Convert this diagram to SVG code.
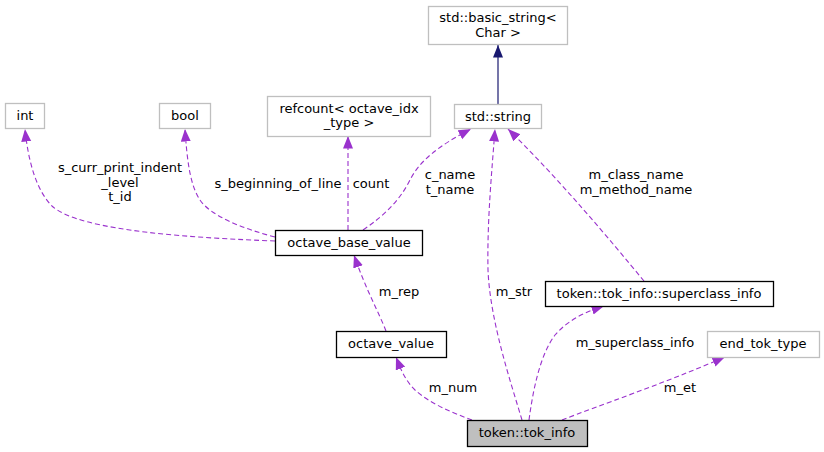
<svg xmlns="http://www.w3.org/2000/svg" width="824" height="452" viewBox="0 0 824 452">
<style>
text{font-family:"DejaVu Sans","Liberation Sans",sans-serif;font-size:13px;fill:#000;text-anchor:middle}
.n rect{fill:#fff;stroke:#000;stroke-width:1.3}
.g rect{stroke:#bfbfbf}
.e{fill:none;stroke:#9a32cd;stroke-width:1.1;stroke-dasharray:5,3}
</style>
<defs>
<marker id="ap" markerWidth="14" markerHeight="12" refX="12.5" refY="5" orient="auto" markerUnits="userSpaceOnUse"><path d="M0,0 L12.5,5 L0,10 Z" fill="#9a32cd"/></marker>
<marker id="an" markerWidth="14" markerHeight="12" refX="12.5" refY="5" orient="auto" markerUnits="userSpaceOnUse"><path d="M0,0 L12.5,5 L0,10 Z" fill="#191970"/></marker>
</defs>
<rect width="824" height="452" fill="#fff"/>
<g id="connectors">
<path d="M498,104 L498,45" fill="none" stroke="#191970" stroke-width="1.2" marker-end="url(#an)"/>
<path class="e" d="M275,241 C200,238 80,232 52,206 C36,190 28,160 25,129" marker-end="url(#ap)"/>
<path class="e" d="M275,237 C240,228 210,215 200,200 C190,185 187,160 185,129" marker-end="url(#ap)"/>
<path class="e" d="M348,230 L348,136" marker-end="url(#ap)"/>
<path class="e" d="M363,230 C385,215 400,200 410,180 C420,160 440,145 471,129" marker-end="url(#ap)"/>
<path class="e" d="M522,420 C510,380 490,320 488,270 C487,220 492,170 495,129" marker-end="url(#ap)"/>
<path class="e" d="M644,281 C610,240 560,180 508,129" marker-end="url(#ap)"/>
<path class="e" d="M529,420 C533,390 540,355 555,335 C568,320 585,312 604,306" marker-end="url(#ap)"/>
<path class="e" d="M472,420 C450,412 428,402 415,390 C405,380 401,370 396,357" marker-end="url(#ap)"/>
<path class="e" d="M562,420 C600,405 660,385 725,357" marker-end="url(#ap)"/>
<path class="e" d="M386,331 C380,315 366,290 354,255" marker-end="url(#ap)"/>
<text x="120" y="172">s_curr_print_indent</text>
<text x="120" y="187">_level</text>
<text x="120" y="201">t_id</text>
<text x="278" y="188">s_beginning_of_line</text>
<text x="371" y="188">count</text>
<text x="450" y="179">c_name</text>
<text x="450" y="194">t_name</text>
<text x="514" y="296">m_str</text>
<text x="636" y="179">m_class_name</text>
<text x="636" y="194">m_method_name</text>
<text x="635" y="347">m_superclass_info</text>
<text x="399" y="296">m_rep</text>
<text x="453" y="392">m_num</text>
<text x="680" y="392">m_et</text>
</g>
<g id="basic_string" class="n g"><rect x="428.5" y="6.5" width="139" height="38"/><text x="498" y="22">std::basic_string&lt;</text><text x="498" y="37">Char &gt;</text></g>
<g id="std_string" class="n g"><rect x="454.5" y="104.5" width="87" height="24"/><text x="498" y="121">std::string</text></g>
<g id="int" class="n g"><rect x="5.5" y="103.5" width="39" height="25"/><text x="25" y="120">int</text></g>
<g id="bool" class="n g"><rect x="159.5" y="103.5" width="51" height="25"/><text x="185" y="120">bool</text></g>
<g id="refcount" class="n g"><rect x="267.5" y="96.5" width="163" height="40"/><text x="349" y="113">refcount&lt; octave_idx</text><text x="349" y="127">_type &gt;</text></g>
<g id="octave_base_value" class="n"><rect x="275.5" y="230.5" width="147" height="25"/><text x="349" y="247">octave_base_value</text></g>
<g id="superclass_info" class="n"><rect x="545.5" y="281.5" width="228" height="25"/><text x="659" y="298">token::tok_info::superclass_info</text></g>
<g id="octave_value" class="n"><rect x="336.5" y="331.5" width="110" height="26"/><text x="391" y="348">octave_value</text></g>
<g id="end_tok_type" class="n g"><rect x="707.5" y="331.5" width="112" height="26"/><text x="763" y="348">end_tok_type</text></g>
<g id="tok_info" class="n"><rect x="467.5" y="420.5" width="120" height="26" style="fill:#bfbfbf"/><text x="527" y="437">token::tok_info</text></g>
</svg>
